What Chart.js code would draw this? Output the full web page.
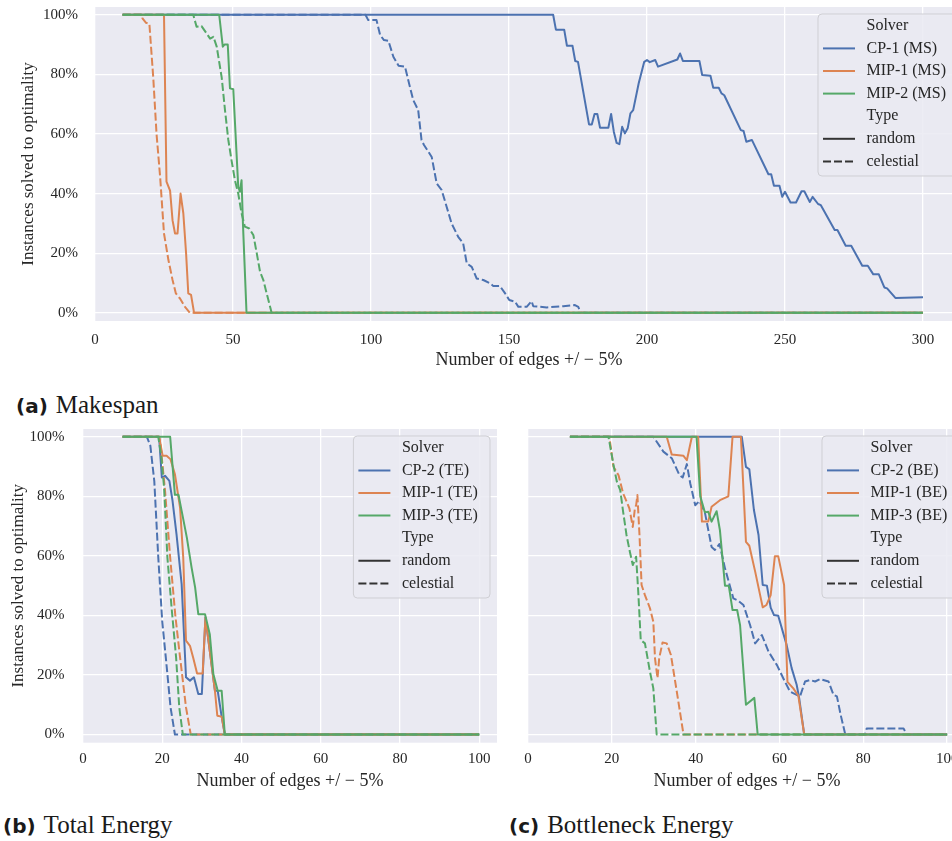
<!DOCTYPE html>
<html><head><meta charset="utf-8">
<script src="https://cdn.jsdelivr.net/npm/chart.js@4/dist/chart.umd.min.js"></script>
<style>
html,body{margin:0;padding:0;background:#fff;}
body{width:952px;height:841px;overflow:hidden;position:relative;font-family:"Liberation Serif",serif;color:#1a1a1a;}
canvas{position:absolute;}
.cap{position:absolute;font-size:25px;line-height:28px;white-space:nowrap;}
.cap b{font-family:"DejaVu Sans",sans-serif;font-weight:700;font-size:20px;margin-right:8px;}
</style></head><body>
<canvas id="ms" width="980" height="371" style="left:0;top:0"></canvas>
<canvas id="te" width="510" height="372" style="left:0;top:420px"></canvas>
<canvas id="be" width="470" height="372" style="left:515px;top:420px"></canvas>
<div class="cap" style="left:16px;top:391px"><b>(a)</b>Makespan</div>
<div class="cap" style="left:3px;top:811px"><b>(b)</b>Total Energy</div>
<div class="cap" style="left:509px;top:811px"><b>(c)</b>Bottleneck Energy</div>
<script>
// ---------- tick labels ----------
const xTicksMS = [0, 50, 100, 150, 200, 250, 300];
const xTicksEnergy = [0, 20, 40, 60, 80, 100];
const yTicks = [0, 20, 40, 60, 80, 100];
const typeNames = ['random', 'celestial'];
const solversMS = ['CP-1 (MS)', 'MIP-1 (MS)', 'MIP-2 (MS)'];
const solversTE = ['CP-2 (TE)', 'MIP-1 (TE)', 'MIP-3 (TE)'];
const solversBE = ['CP-2 (BE)', 'MIP-1 (BE)', 'MIP-3 (BE)'];

// ---------- (a) Makespan: [edges, % solved] ----------
const msCP1Random = [[10,100],[166,100],[167,95],[170,95],[171,89.6],[173,89.6],[174,84.5],[175,84.2],[179,63.2],[180,63.2],[181,66.7],[182,66.7],[183,62.1],[186,62.1],[187,66.7],[188,60.7],[189,57],[190,56.6],[191,62.4],[192,60.2],[193,61.9],[194,66.9],[195,68],[197,77],[199,84.2],[200,84.8],[201,84.1],[203,84.8],[204,82.6],[211,85],[212,87],[213,84.5],[219,84.5],[220,79.8],[223,79.5],[224,75.5],[226,75.5],[227,73.6],[228,73],[234,61.3],[235,61],[236,57.4],[238,58],[244,46.5],[245,46.5],[246,42.6],[248,42.6],[249,38.9],[250,40.6],[252,37],[254,37],[256,40.8],[257,40.8],[259,37.2],[260,38.9],[262,36.5],[263,36.1],[268,27.8],[269,27.8],[272,22.5],[274,22.5],[278,15.8],[280,15.8],[282,12.9],[284,12.9],[286,8.5],[287,8.2],[290,5],[300,5.2]];
const msCP1Celestial = [[10,100],[98,100],[99,98.2],[102,98.2],[103.3,93.2],[104.7,91.5],[106.3,91.3],[108.1,85.9],[110,82.9],[112.3,82.6],[114.1,75.8],[115.3,71.4],[117.1,68],[118.3,58],[119.2,56.3],[122,52.3],[123.8,43.4],[125.6,41.2],[127.4,35.6],[129.2,30],[131.6,25.5],[133.4,23.3],[134.7,16.6],[136.5,15.4],[138.3,11.5],[140.7,11],[143.1,9.9],[144.3,9],[146.7,9],[148.6,6.5],[150.1,4.3],[152.2,3.7],[153.4,2],[156.4,2],[158.2,3.9],[158.8,2.2],[163.7,1.8],[169.7,2.2],[173.9,2.6],[175.1,2],[176,0],[300,0]];
const msMIP1Random = [[10,100],[25,100],[25.9,44],[27.2,41],[28.1,31],[29,26.6],[29.9,26.6],[31,40],[32,33.4],[33,20],[33.8,6.5],[34.8,6],[35.9,0],[300,0]];
const msMIP1Celestial = [[10,100],[16.9,100],[17.2,98.8],[18.5,97.3],[19.7,97],[21.1,79],[22.3,60],[23.6,45.6],[25,26.6],[26.6,17.7],[28.1,11],[29.3,6.5],[30.8,4.8],[32.6,2],[34.4,0],[300,0]];
const msMIP2Random = [[10,100],[45,100],[46.3,89.3],[46.9,90],[48.1,90],[48.9,75.3],[50.1,75],[51.9,42.3],[52.5,40.6],[53.1,44.5],[53.6,30],[54.9,0],[300,0]];
const msMIP2Celestial = [[10,100],[35.6,100],[36.8,96],[38.6,96.2],[41.7,92],[42.9,92.6],[44.1,89.3],[45.9,79],[47.1,68],[48.3,58],[49.5,51],[50.7,44.5],[51.9,40],[53.1,33.4],[54.3,28.9],[55.9,28.3],[57.4,26],[58.6,20],[59.8,13.8],[61,11],[62.2,6.5],[64,0],[300,0]];

// ---------- (b) Total Energy ----------
const teCP2Random = [[10,100],[19.2,100],[19.9,86.3],[20.7,86.9],[21.8,85.2],[22.6,78.5],[23.6,67.3],[24.9,50.5],[26,19.2],[27,18.1],[28,19.2],[29.1,13.6],[30,13.6],[30.9,39.3],[32,28.1],[33.3,14.7],[34,14.7],[35,6],[35.8,0],[100,0]];
const teCP2Celestial = [[10,100],[16.1,100],[17,97],[18,85],[19,59.5],[20,38],[20.9,25.9],[22.1,9.1],[23.2,0],[100,0]];
const teMIP1Random = [[10,100],[19.2,100],[20.1,93.6],[21.1,93.6],[22.1,92.4],[23.2,87.4],[24.5,76.2],[25.3,59.5],[26,31.5],[27,29.8],[27.8,25.9],[28.8,20.5],[30.2,20.5],[30.9,39.3],[32,28.1],[33.3,14.7],[33.9,6.3],[35,6],[35.8,0],[100,0]];
const teMIP1Celestial = [[10,100],[19.2,100],[19.6,97],[20.7,82],[22,59.5],[23.3,40],[24.5,25.9],[26,9.1],[27.2,0],[100,0]];
const teMIP3Random = [[10,100],[22,100],[23.2,80.5],[24.1,80.5],[24.9,75.1],[26.2,66.2],[27.4,56.1],[28.3,49.4],[29.1,40.4],[30.8,40.4],[32,33.7],[32.9,20.3],[34,14.7],[35,14.7],[35.8,0],[100,0]];
const teMIP3Celestial = [[10,100],[19,100],[19.8,93],[20.5,82],[21.3,59.5],[22.4,42],[23.5,25.9],[24.3,9.1],[25.2,0],[100,0]];

// ---------- (c) Bottleneck Energy ----------
const beCP2Random = [[10,100],[51,100],[52,89.9],[52.8,89.1],[53.9,75.4],[55,67],[56,50.2],[57,50],[57.9,42.6],[58.7,40.1],[59.7,39.9],[61.7,30.1],[62.9,22.3],[64.1,16.7],[64.7,12.2],[65.9,0],[100,0]];
const beCP2Celestial = [[10,100],[29.9,100],[32.3,95],[34.3,92.8],[36.1,87.2],[36.9,86.3],[37.9,90.8],[38.7,84.4],[39.9,77],[40.9,78.4],[42.2,74.6],[43.8,63],[44.6,62],[45.7,64],[47,55.8],[49,45.7],[50.2,44.9],[51.4,43.5],[53,36.7],[54.2,30.6],[55.8,33.4],[57.4,27.8],[59.4,23.3],[60.9,18.9],[62.5,14.4],[64.1,13.3],[64.9,12.8],[66.1,17.8],[67.3,18.3],[68.5,17.8],[69.7,18.6],[71.7,17.8],[72.9,13.3],[73.7,12.8],[74.6,6.6],[75.7,0],[80.4,0],[80.8,2],[89.6,2],[90.4,0],[100,0]];
const beMIP1Random = [[10,100],[33.1,100],[34.3,94],[37.1,93.6],[37.9,92.1],[39.1,100],[40.6,100],[41.5,71.5],[43,71.5],[43.8,76.5],[45.8,78.7],[47.8,80],[48.8,100],[50.8,100],[52,64.7],[52.8,63.4],[54.2,54.7],[56,42.7],[56.9,43.5],[57.9,46.8],[58.9,59.9],[59.7,59.9],[61.1,50.2],[61.9,17.7],[63.3,15.5],[64.5,13],[65.9,0],[100,0]];
const beMIP1Celestial = [[10,100],[19.4,100],[20.4,89.9],[21.6,87.1],[22.7,81],[24.2,75.9],[25,69.7],[25.5,75.9],[25.8,77],[26.1,80.4],[26.6,67],[27.1,50.2],[27.9,46.8],[29.1,42.4],[29.9,37.9],[30.3,25.6],[30.9,18.9],[31.3,25.6],[32.1,30.9],[33.1,30.6],[34.1,26.7],[35.5,14.4],[37.1,0],[100,0]];
const beMIP3Random = [[10,100],[40.2,100],[41.1,80],[42.2,74.6],[43,74.8],[43.8,71.5],[45,75],[45.8,68.5],[47,50],[47.9,50],[48.8,41.8],[49.9,41.8],[50.6,36.7],[52,10],[54,12.3],[54.8,0],[100,0]];
const beMIP3Celestial = [[10,100],[19.2,100],[20.4,90.5],[21.2,84.9],[22,82.1],[22.7,74.8],[23.5,67],[24.3,61.4],[25,56.9],[25.8,59.7],[26.3,48],[26.9,31.7],[27.9,30.6],[29.1,21.1],[29.9,15.5],[30.7,0],[100,0]];

// ---------- styling ----------
const COLORS = ['#4C72B0', '#DD8452', '#55A868'];
const TYPE_COLOR = '#333333';
const DASH = [8, 3];
const TEXT = '#262626';
const SERIF = '"Liberation Serif", serif';

const bgPlugin = {
  id: 'bgArea',
  beforeDraw(chart) {
    const {ctx, chartArea: a} = chart;
    ctx.save();
    ctx.fillStyle = '#EAEAF2';
    ctx.fillRect(a.left, a.top, a.right - a.left, a.bottom - a.top);
    ctx.restore();
  }
};

const legendPlugin = {
  id: 'seaLegend',
  afterDraw(chart, args, o) {
    if (!o || !o.items) return;
    const {ctx, chartArea: a} = chart;
    const x0 = a.right - 7 - o.width, y0 = a.top + 7, w = o.width, h = 162, r = 4;
    ctx.save();
    ctx.beginPath();
    ctx.moveTo(x0 + r, y0); ctx.lineTo(x0 + w - r, y0); ctx.arcTo(x0 + w, y0, x0 + w, y0 + r, r);
    ctx.lineTo(x0 + w, y0 + h - r); ctx.arcTo(x0 + w, y0 + h, x0 + w - r, y0 + h, r);
    ctx.lineTo(x0 + r, y0 + h); ctx.arcTo(x0, y0 + h, x0, y0 + h - r, r);
    ctx.lineTo(x0, y0 + r); ctx.arcTo(x0, y0, x0 + r, y0, r);
    ctx.closePath();
    ctx.fillStyle = 'rgba(234,234,242,0.85)';
    ctx.fill();
    ctx.strokeStyle = '#cfcfd4';
    ctx.lineWidth = 1;
    ctx.stroke();
    o.items.forEach((it, i) => {
      const cy = y0 + 11.8 + i * 22.6;
      if (it.color) {
        ctx.beginPath();
        ctx.setLineDash(it.dash ? DASH : []);
        ctx.strokeStyle = it.color;
        ctx.lineWidth = 2;
        ctx.moveTo(x0 + 5, cy); ctx.lineTo(x0 + 37, cy);
        ctx.stroke();
      }
      ctx.setLineDash([]);
      ctx.fillStyle = TEXT;
      ctx.font = '16px ' + SERIF;
      ctx.textBaseline = 'middle';
      ctx.textAlign = 'left';
      ctx.fillText(it.text, x0 + 48.5, cy);
    });
    ctx.restore();
  }
};

function legendItems(solvers) {
  const items = [{text: 'Solver'}];
  solvers.forEach((s, i) => items.push({text: s, color: COLORS[i]}));
  items.push({text: 'Type'});
  items.push({text: typeNames[0], color: TYPE_COLOR});
  items.push({text: typeNames[1], color: TYPE_COLOR, dash: true});
  return items;
}

function makeChart(id, c) {
  const datasets = [];
  c.series.forEach((pair, si) => {
    pair.forEach((data, ti) => {
      datasets.push({
        label: c.solvers[si] + ' ' + typeNames[ti],
        data: data.map(p => ({x: p[0], y: p[1]})),
        borderColor: COLORS[si],
        borderWidth: 2,
        borderDash: ti === 1 ? DASH : [],
        borderJoinStyle: 'round',
        pointRadius: 0,
        fill: false,
        tension: 0
      });
    });
  });
  datasets.forEach((d, i) => { d.order = 100 - i; });
  return new Chart(document.getElementById(id), {
    type: 'line',
    data: {datasets},
    options: {
      responsive: false,
      animation: false,
      devicePixelRatio: 1,
      layout: {padding: c.padding},
      plugins: {
        legend: {display: false},
        tooltip: {enabled: false},
        seaLegend: {items: legendItems(c.solvers), width: c.legendWidth}
      },
      scales: {
        x: {
          type: 'linear', min: 0, max: c.xmax,
          afterBuildTicks: s => { s.ticks = c.xTicks.map(v => ({value: v})); },
          afterFit: s => { s.height = c.xAxisH; s.paddingLeft = 0; s.paddingRight = 0; },
          grid: {color: '#ffffff', lineWidth: 1.3, drawTicks: false},
          border: {display: false},
          ticks: {autoSkip: false, maxRotation: 0, padding: c.xTickPad, color: TEXT, font: {family: SERIF, size: 15}},
          title: {display: true, text: 'Number of edges +/ \u2212 5%', color: TEXT, font: {family: SERIF, size: 18}, padding: 0}
        },
        y: {
          type: 'linear', min: -2.75, max: 102.6,
          afterBuildTicks: s => { s.ticks = yTicks.map(v => ({value: v})); },
          afterFit: s => { s.width = c.yAxisW; s.paddingTop = 0; s.paddingBottom = 0; },
          grid: {color: '#ffffff', lineWidth: 1.3, drawTicks: false},
          border: {display: false},
          ticks: {display: c.showY, padding: c.yTickPad, color: TEXT, font: {family: SERIF, size: 15}, callback: v => v + '%'},
          title: {display: c.showY, text: 'Instances solved to optimality', color: TEXT, font: {family: SERIF, size: 17}, padding: {top: c.yTitlePad, bottom: 0}}
        }
      }
    },
    plugins: [bgPlugin, legendPlugin]
  });
}

makeChart('ms', {
  series: [[msCP1Random, msCP1Celestial], [msMIP1Random, msMIP1Celestial], [msMIP2Random, msMIP2Celestial]],
  solvers: solversMS, xTicks: xTicksMS, xmax: 314.5,
  padding: {top: 7, right: 17, left: 0, bottom: 0},
  xAxisH: 50, yAxisW: 95, xTickPad: 10, yTickPad: 17, yTitlePad: 18, showY: true, legendWidth: 138
});
makeChart('te', {
  series: [[teCP2Random, teCP2Celestial], [teMIP1Random, teMIP1Celestial], [teMIP3Random, teMIP3Celestial]],
  solvers: solversTE, xTicks: xTicksEnergy, xmax: 104.5,
  padding: {top: 9, right: 13, left: 0, bottom: 0},
  xAxisH: 49.3, yAxisW: 83, xTickPad: 7, yTickPad: 18.5, yTitlePad: 8, showY: true, legendWidth: 136.6
});
makeChart('be', {
  series: [[beCP2Random, beCP2Celestial], [beMIP1Random, beMIP1Celestial], [beMIP3Random, beMIP3Celestial]],
  solvers: solversBE, xTicks: xTicksEnergy, xmax: 104.5,
  padding: {top: 9, right: 19, left: 0, bottom: 0},
  xAxisH: 49.3, yAxisW: 13, xTickPad: 7, yTickPad: 0, yTitlePad: 0, showY: false, legendWidth: 137
});
</script>
</body></html>
